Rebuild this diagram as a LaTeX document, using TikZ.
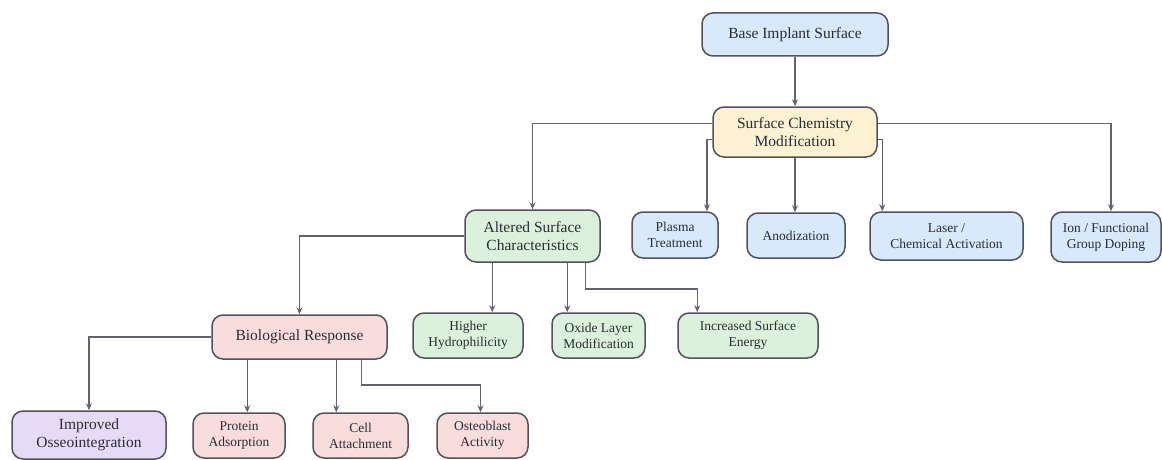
\documentclass[tikz,border=0pt]{standalone}
\usepackage{fontspec}
\setmainfont{Liberation Serif}
\usetikzlibrary{arrows.meta,calc}
\definecolor{bluefill}{HTML}{D8E9FB}
\definecolor{yellowfill}{HTML}{FCF2D2}
\definecolor{greenfill}{HTML}{DCF1DB}
\definecolor{pinkfill}{HTML}{F9DCDC}
\definecolor{purplefill}{HTML}{E5DBF6}
\definecolor{boxline}{HTML}{50525E}
\definecolor{connline}{HTML}{62646E}
\definecolor{txt}{HTML}{2A2C34}
\tikzset{
  box/.style={draw=boxline, line width=1.5pt, rounded corners=11pt, align=center,
    text=txt, inner sep=2pt, font=\fontsize{15.5}{18}\selectfont},
  small/.style={font=\fontsize{13.5}{16}\selectfont},
  bl/.style={box, fill=bluefill},
  yl/.style={box, fill=yellowfill},
  gr/.style={box, fill=greenfill},
  pk/.style={box, fill=pinkfill},
  pu/.style={box, fill=purplefill},
  conn/.style={draw=connline, line width=1.5pt, -{Stealth[length=7pt,width=6pt]}},
}
\begin{document}
\begin{tikzpicture}[x=1pt,y=-1pt]
\useasboundingbox (0,0) rectangle (1162,460);
\fill[white] (0,0) rectangle (1162,460);
% row 0,1
\node[bl, minimum width=186pt, minimum height=43pt] (base) at (795,34.5) {Base Implant Surface};
\node[yl, minimum width=164pt, minimum height=50pt] (scm) at (795,132) {Surface Chemistry\\Modification};
% row 2
\node[gr, minimum width=135pt, minimum height=52pt] (alt) at (532.5,236) {Altered Surface\\Characteristics};
\node[bl, small, minimum width=86pt, minimum height=46pt] (plasma) at (675,235) {Plasma\\Treatment};
\node[bl, small, minimum width=98pt, minimum height=45pt] (anod) at (796,235.5) {Anodization};
\node[bl, small, minimum width=153pt, minimum height=48pt] (laser) at (946.5,236) {Laser /\\Chemical Activation};
\node[bl, small, minimum width=110pt, minimum height=50pt] (ion) at (1106,237) {Ion / Functional\\Group Doping};
% row 3
\node[pk, minimum width=175pt, minimum height=44pt] (bio) at (299.5,337) {Biological Response};
\node[gr, small, minimum width=110pt, minimum height=45pt] (hydro) at (468,335.5) {Higher\\Hydrophilicity};
\node[gr, small, minimum width=93pt, minimum height=45pt] (oxide) at (598.5,335.5) {Oxide Layer\\Modification};
\node[gr, small, minimum width=140pt, minimum height=45pt] (energy) at (748,335.5) {Increased Surface\\Energy};
% row 4
\node[pu, minimum width=154pt, minimum height=48pt] (impr) at (89,435) {Improved\\Osseointegration};
\node[pk, small, minimum width=92pt, minimum height=45pt] (prot) at (239,435.5) {Protein\\Adsorption};
\node[pk, small, minimum width=95pt, minimum height=45pt] (cell) at (360.5,435.5) {Cell\\Attachment};
\node[pk, small, minimum width=91pt, minimum height=45pt] (osteo) at (482.5,435.5) {Osteoblast\\Activity};
% connector anchor points
\coordinate (sL1) at ($(scm.north west)+(0,17)$);
\coordinate (sL2) at ($(scm.north west)+(0,33)$);
\coordinate (sR1) at ($(scm.north east)+(0,17)$);
\coordinate (sR2) at ($(scm.north east)+(0,33)$);
\coordinate (pT) at ($(plasma.north)+(32,0)$);
\coordinate (lT) at ($(laser.north west)+(13,0)$);
\coordinate (iT) at ($(ion.north)+(5,0)$);
\coordinate (a1) at ($(alt.south west)+(28,0)$);
\coordinate (a2) at ($(alt.south west)+(103,0)$);
\coordinate (a3) at ($(alt.south west)+(121,0)$);
\coordinate (eT) at ($(energy.north west)+(20,0)$);
\coordinate (b1) at ($(bio.south west)+(36,0)$);
\coordinate (b2) at ($(bio.south west)+(125,0)$);
\coordinate (b3) at ($(bio.south west)+(150,0)$);
\coordinate (oT) at ($(osteo.north)+(-2,0)$);
% connectors
\draw[conn] (base.south) -- (scm.north);
\draw[conn] (sL1) -| (alt.north);
\draw[conn] (sL2) -| (pT);
\draw[conn] (scm.south) -- (scm.south |- anod.north);
\draw[conn] (sR2) -| (lT);
\draw[conn] (sR1) -| (iT);
\draw[conn] (alt.west) -| (bio.north);
\draw[conn] (a1) -- (a1 |- hydro.north);
\draw[conn] (a2) -- (a2 |- oxide.north);
\draw[conn] (a3) -- ++(0,26) -| (eT);
\draw[conn] (bio.west) -| (impr.north);
\draw[conn] (b1) -- (b1 |- prot.north);
\draw[conn] (b2) -- (b2 |- cell.north);
\draw[conn] (b3) -- ++(0,25) -| (oT);
\end{tikzpicture}
\end{document}
